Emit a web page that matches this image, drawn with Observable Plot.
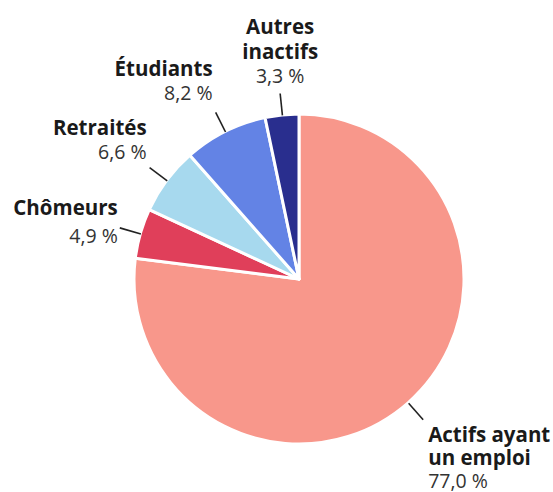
<!DOCTYPE html>
<html><head><meta charset="utf-8">
<script src="https://cdn.jsdelivr.net/npm/d3@7"></script>
<script src="https://cdn.jsdelivr.net/npm/@observablehq/plot@0.6"></script>
<style>html,body{margin:0;padding:0;background:#fff} svg{display:block}</style>
</head><body><div id="chart"></div>
<script>
// ---- data ----
const categories = ["Actifs ayant un emploi", "Chômeurs", "Retraités", "Étudiants", "Autres inactifs"];
const nameLines = [["Actifs ayant", "un emploi"], ["Chômeurs"], ["Retraités"], ["Étudiants"], ["Autres", "inactifs"]];
const shares = [77.0, 4.9, 6.6, 8.2, 3.3];
const shareLabels = ["77,0 %", "4,9 %", "6,6 %", "8,2 %", "3,3 %"];
const colors = ["#f8978b", "#e03f5a", "#a7d9ee", "#6383e5", "#292e8e"];

// ---- layout (pixels) ----
const W = 553, H = 492, CX = 299, CY = 279, R = 165;
const LEAD0 = R, LEAD1 = R + 22;
const labelLayout = [
  {anchor: "start",  dx: 5,  baselines: [22, 45, 68]},
  {anchor: "end",    dx: -2, baselines: [-13, 15]},
  {anchor: "end",    dx: -3, baselines: [-33, -9]},
  {anchor: "end",    dx: -3, baselines: [-36, -12]},
  {anchor: "middle", dx: 0,  baselines: [-60, -35, -11]}
];

const data = categories.map((name, i) => ({name, share: shares[i], i}));
const arcs = d3.pie().value(d => d.share).sort(null).startAngle(0).endAngle(2 * Math.PI)(data);
const mid = arcs.map(a => (a.startAngle + a.endAngle) / 2);

const leaders = arcs.map((a, i) => ({
  x1: Math.sin(mid[i]) * LEAD0, y1: Math.cos(mid[i]) * LEAD0,
  x2: Math.sin(mid[i]) * LEAD1, y2: Math.cos(mid[i]) * LEAD1
}));

const textLines = [];
arcs.forEach((a, i) => {
  const L = labelLayout[i];
  const px = leaders[i].x2 + L.dx, py = leaders[i].y2;
  const lines = nameLines[i].map(t => ({t, bold: true})).concat([{t: shareLabels[i], bold: false}]);
  lines.forEach((ln, j) => textLines.push({x: px, y: py - L.baselines[j], text: ln.t, bold: ln.bold, anchor: L.anchor}));
});

function wedges(index, scales) {
  const cx = scales.x(0), cy = scales.y(0), r = scales.x(R) - scales.x(0);
  const color = scales.color || (n => colors[categories.indexOf(n)]);
  const g = d3.create("svg:g").attr("transform", `translate(${cx},${cy})`);
  const arc = d3.arc().innerRadius(0).outerRadius(r);
  g.selectAll("path").data(arcs).join("path")
    .attr("d", arc)
    .attr("fill", d => color(d.data.name))
    .attr("stroke", "#fff").attr("stroke-width", 3).attr("stroke-linejoin", "round");
  return g.node();
}

const textMark = (anchor, bold) => Plot.text(textLines.filter(d => d.anchor === anchor && d.bold === bold), {
  x: "x", y: "y", text: "text", textAnchor: anchor, lineAnchor: "bottom",
  fontSize: bold ? 20.5 : 19.5, fontWeight: bold ? 700 : 400,
  fill: bold ? "#1a1a1a" : "#333"
});

const plot = Plot.plot({
  width: W, height: H,
  margin: 0,
  style: {fontFamily: "'Open Sans', sans-serif", background: "#fff"},
  x: {domain: [-CX, W - CX], range: [0, W], axis: null},
  y: {domain: [CY - H, CY], range: [H, 0], axis: null},
  color: {domain: categories, range: colors},
  marks: [
    Plot.dot(data, {x: 0, y: 0, r: 0, fill: "name"}),
    wedges,
    Plot.link(leaders, {x1: "x1", y1: "y1", x2: "x2", y2: "y2", stroke: "#222", strokeWidth: 1.6}),
    ...["start", "end", "middle"].flatMap(a => [textMark(a, true), textMark(a, false)])
  ]
});
document.getElementById("chart").appendChild(plot);
</script>
</body></html>
